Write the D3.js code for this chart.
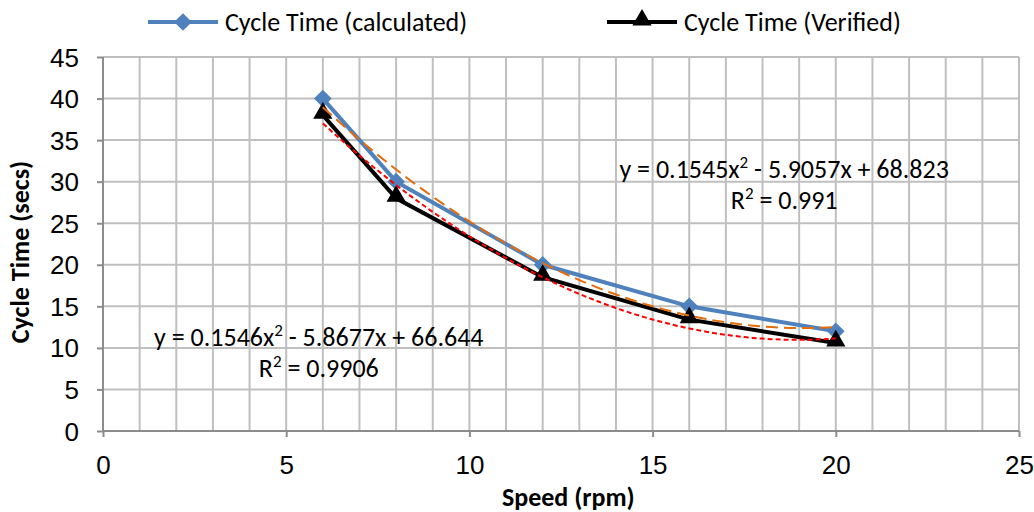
<!DOCTYPE html>
<html>
<head>
<meta charset="utf-8">
<script src="https://cdn.jsdelivr.net/npm/d3@7"></script>
<style>
  body { margin: 0; background: #fff; }
  svg { font-family: Carlito, "Open Sans", "Noto Sans", sans-serif; }
</style>
</head>
<body>
<div id="chart"></div>
<script>
// data
var speeds = [6, 8, 12, 16, 20];
var calculated = [40, 30, 20, 15, 12];
var verified = [38, 28, 18.5, 13.4, 10.6];
// trendline coefficients [a, b, c] as printed on the chart
var calcFit = [0.1545, -5.9057, 68.823];
var verFit = [0.1546, -5.8677, 66.644];
var xTicks = [0, 5, 10, 15, 20, 25];
var yTicks = [0, 5, 10, 15, 20, 25, 30, 35, 40, 45];

var width = 1034, height = 512;
var margin = { top: 57, right: 15, bottom: 81, left: 103 };
var w = width - margin.left - margin.right;
var h = height - margin.top - margin.bottom;
var fs = 26;

var svg = d3.select("#chart").append("svg")
  .attr("width", width).attr("height", height);
var g = svg.append("g")
  .attr("transform", "translate(" + margin.left + "," + margin.top + ")");

var x = d3.scaleLinear().domain([0, 25]).range([0, w]);
var y = d3.scaleLinear().domain([0, 45]).range([h, 0]);

// minor vertical gridlines every 1 unit
g.append("g").selectAll("line")
  .data(d3.range(1, 26))
  .join("line")
  .attr("x1", d => x(d)).attr("x2", d => x(d))
  .attr("y1", 0).attr("y2", h)
  .attr("stroke", "#bfbfbf").attr("stroke-width", 2);

// horizontal gridlines
g.append("g").selectAll("line")
  .data(yTicks.slice(1))
  .join("line")
  .attr("x1", 0).attr("x2", w)
  .attr("y1", d => y(d)).attr("y2", d => y(d))
  .attr("stroke", "#bfbfbf").attr("stroke-width", 2);

// axes
var xAxis = d3.axisBottom(x).tickValues(xTicks).tickSize(6).tickPadding(19);
var yAxis = d3.axisLeft(y).tickValues(yTicks).tickSize(6).tickPadding(18);

g.append("g").attr("transform", "translate(0," + h + ")").call(xAxis)
  .call(a => a.select(".domain").attr("stroke", "#8c8c8c").attr("stroke-width", 2).attr("d", "M0,0H" + w))
  .call(a => a.selectAll(".tick line").attr("stroke", "#8c8c8c").attr("stroke-width", 2))
  .call(a => a.selectAll("text").attr("font-size", fs).attr("fill", "#000"));

g.append("g").call(yAxis)
  .call(a => a.select(".domain").attr("stroke", "#8c8c8c").attr("stroke-width", 2).attr("d", "M0,0V" + h))
  .call(a => a.selectAll(".tick line").attr("stroke", "#8c8c8c").attr("stroke-width", 2))
  .call(a => a.selectAll("text").attr("font-size", fs).attr("fill", "#000").attr("dy", "0.35em"));

// axis titles
svg.append("text")
  .attr("x", margin.left + x(12.7)).attr("y", 506)
  .attr("text-anchor", "middle").attr("font-weight", "bold").attr("font-size", fs)
  .text("Speed (rpm)");
svg.append("text")
  .attr("transform", "translate(29,252) rotate(-90)")
  .attr("text-anchor", "middle").attr("font-weight", "bold").attr("font-size", fs)
  .text("Cycle Time (secs)");

var line = d3.line().x(d => x(d[0])).y(d => y(d[1]));
var calcPts = speeds.map((s, i) => [s, calculated[i]]);
var verPts = speeds.map((s, i) => [s, verified[i]]);

// series lines
g.append("path").datum(calcPts).attr("d", line)
  .attr("fill", "none").attr("stroke", "#4f81bd").attr("stroke-width", 4);
g.append("path").datum(verPts).attr("d", line)
  .attr("fill", "none").attr("stroke", "#000").attr("stroke-width", 4);

// markers
var diamond = d3.symbol().type(d3.symbolDiamond2).size(200);
var triangle = d3.symbol().type(d3.symbolTriangle).size(160);

g.append("g").selectAll("path").data(calcPts).join("path")
  .attr("d", diamond)
  .attr("transform", d => "translate(" + x(d[0]) + "," + y(d[1]) + ")")
  .attr("fill", "#4f81bd");
g.append("g").selectAll("path").data(verPts).join("path")
  .attr("d", triangle)
  .attr("transform", d => "translate(" + x(d[0]) + "," + (y(d[1]) - 2) + ")")
  .attr("fill", "#000");

// polynomial trendlines over the data range
function trend(coef) {
  return d3.range(6, 20.01, 0.25).map(v => [v, coef[0] * v * v + coef[1] * v + coef[2]]);
}
var smooth = d3.line().x(d => x(d[0])).y(d => y(d[1])).curve(d3.curveMonotoneX);
g.append("path").datum(trend(calcFit)).attr("d", smooth)
  .attr("fill", "none").attr("stroke", "#e46c0a").attr("stroke-width", 2)
  .attr("stroke-dasharray", "12,6");
g.append("path").datum(trend(verFit)).attr("d", smooth)
  .attr("fill", "none").attr("stroke", "#ff0000").attr("stroke-width", 2)
  .attr("stroke-dasharray", "5,3");

// trendline labels
function eqLabel(cx, cy, coef, r2) {
  var t = g.append("text").attr("x", x(cx)).attr("y", y(cy))
    .attr("text-anchor", "middle").attr("font-size", fs).attr("fill", "#000");
  t.append("tspan").text("y = " + coef[0] + "x");
  t.append("tspan").attr("baseline-shift", "super").attr("font-size", 17).text("2");
  t.append("tspan").text(" - " + Math.abs(coef[1]) + "x + " + coef[2]);
  var r = g.append("text").attr("x", x(cx)).attr("y", y(cy) + 31)
    .attr("text-anchor", "middle").attr("font-size", fs).attr("fill", "#000");
  r.append("tspan").text("R");
  r.append("tspan").attr("baseline-shift", "super").attr("font-size", 17).text("2");
  r.append("tspan").text(" = " + r2);
}
eqLabel(18.59, 30.5, calcFit, "0.991");
eqLabel(5.89, 10.2, verFit, "0.9906");

// legend
var legend = svg.append("g");
var items = [
  { label: "Cycle Time (calculated)", color: "#4f81bd", sym: diamond, x0: 148, dy: 0 },
  { label: "Cycle Time (Verified)", color: "#000", sym: triangle, x0: 607, dy: -2 }
];
items.forEach(function (it) {
  legend.append("line").attr("x1", it.x0).attr("x2", it.x0 + 70)
    .attr("y1", 22).attr("y2", 22).attr("stroke", it.color).attr("stroke-width", 4);
  legend.append("path").attr("d", it.sym)
    .attr("transform", "translate(" + (it.x0 + 35) + "," + (22 + it.dy) + ")")
    .attr("fill", it.color);
  legend.append("text").attr("x", it.x0 + 77).attr("y", 22).attr("dy", "0.35em")
    .attr("font-size", fs).attr("fill", "#000").text(it.label);
});
</script>
</body>
</html>
